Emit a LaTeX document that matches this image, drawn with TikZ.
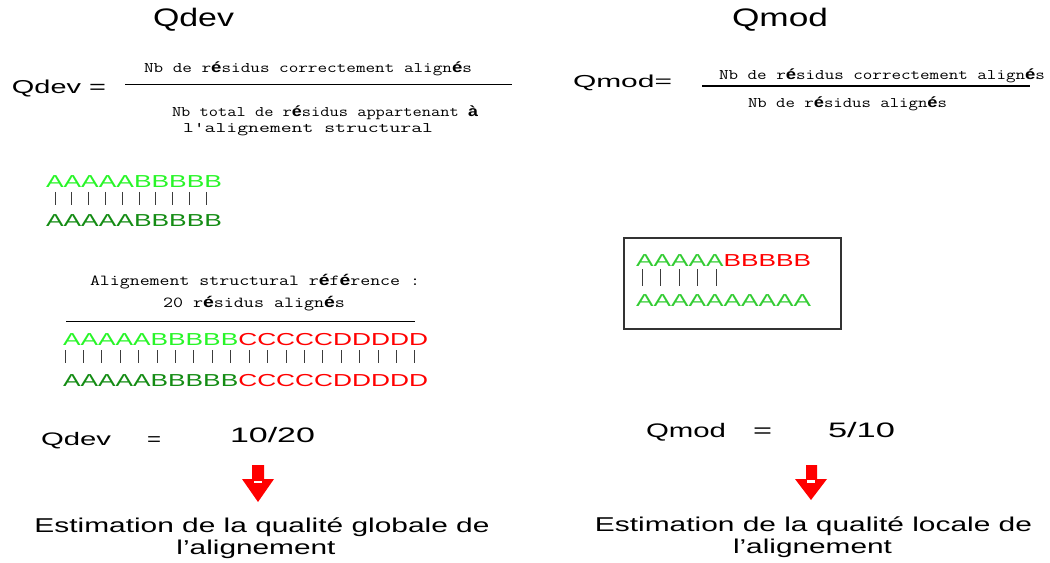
\documentclass[tikz,border=0pt]{standalone}
\usepackage{fontspec}
\setmainfont{Liberation Sans}
\usepackage{graphicx}
\newdimen\pxu \pxu=0.75pt
\newcommand\fw[2]{\resizebox{#1\pxu}{\height}{#2}}
\newcommand\Ea{{\rmfamily\bfseries é}}
\newcommand\Aa{{\rmfamily\bfseries à}}
\definecolor{lgreen}{RGB}{40,245,40}
\definecolor{dgreen}{RGB}{20,140,20}
\definecolor{mgreen}{RGB}{51,204,51}
\definecolor{seqred}{RGB}{255,0,0}
\definecolor{barcol}{RGB}{60,60,60}
\tikzset{
  txt/.style={inner sep=0pt, outer sep=0pt, anchor=base west},
  ctxt/.style={inner sep=0pt, outer sep=0pt, anchor=base},
  title/.style={txt, font=\fontsize{19}{23}\selectfont},
  mono/.style={txt, font=\fontsize{11}{13}\selectfont\ttfamily},
  seq/.style={txt, font=\fontsize{13}{15}\selectfont},
  big/.style={ctxt, font=\fontsize{15}{18}\selectfont},
  bar/.style={draw=barcol, line width=0.75pt},
  fracline/.style={draw=black, line width=1.1pt},
  redarrow/.style={fill=seqred, draw=none},
}
\begin{document}
\begin{tikzpicture}[x=0.75pt, y=-0.75pt]
\useasboundingbox (0,0) rectangle (1050,563);

% titles
\node[title] (tdev) at (153,27) {\fw{81}{Qdev}};
\node[title] (tmod) at (732,27) {\fw{96}{Qmod}};

% left formula
\node[txt, font=\fontsize{14}{16}\selectfont] (qdevf) at (12,94) {\fw{94}{Qdev =}};
\draw[fracline] (125,84.5) -- (512,84.5);
\node[mono] (numl) at (144,73) {\fw{328}{Nb de r\Ea sidus correctement align\Ea s}};
\node[mono] (denl1) at (172,117) {\fw{306}{Nb total de r\Ea sidus appartenant \Aa}};
\node[mono] (denl2) at (183,133) {\fw{250}{l'alignement structural}};

% right formula
\node[txt, font=\fontsize{13}{15}\selectfont] (qmodf) at (573,88) {\fw{99}{Qmod=}};
\draw[fracline] (702,86) -- (1030,86);
\node[mono] (numr) at (719,80) {\fw{326}{Nb de r\Ea sidus correctement align\Ea s}};
\node[mono] (denr) at (748,108) {\fw{199}{Nb de r\Ea sidus align\Ea s}};

% top-left small alignment
\node[seq] (s1) at (46,188) {\fw{176}{\color{lgreen}AAAAABBBBB}};
\foreach \i in {0,...,9} {
  \draw[bar] ({55+\i*16.8},192) -- ({55+\i*16.8},205);
}
\node[seq] (s2) at (46,226) {\fw{176}{\color{dgreen}AAAAABBBBB}};

% structural reference alignment
\node[mono, font=\fontsize{11.5}{13}\selectfont\ttfamily] (h1) at (90,285) {\fw{330}{Alignement structural r\Ea f\Ea rence :}};
\node[mono, font=\fontsize{11.5}{13}\selectfont\ttfamily] (h2) at (163,307) {\fw{182}{20 r\Ea sidus align\Ea s}};
\draw[draw=black, line width=0.75pt] (66,321) -- (415,321);
\node[seq] (r1) at (63,345) {\fw{365}{\color{lgreen}AAAAABBBBB\color{seqred}CCCCCDDDDD}};
\foreach \i in {0,...,19} {
  \draw[bar] ({65+\i*18.42},350) -- ({65+\i*18.42},363);
}
\node[seq] (r2) at (63,386) {\fw{365}{\color{dgreen}AAAAABBBBB\color{seqred}CCCCCDDDDD}};

% right box
\draw[draw=black!80, line width=1.1pt] (624,238) rectangle (841,329);
\node[seq] (b1) at (636,266) {\fw{175}{\color{mgreen}AAAAA\color{seqred}BBBBB}};
\foreach \i in {0,...,4} {
  \draw[bar] ({642+\i*18.5},269) -- ({642+\i*18.5},286);
}
\node[seq] (b2) at (636,306) {\fw{175}{\color{mgreen}AAAAAAAAAA}};

% bottom left result
\node[txt, font=\fontsize{13.6}{16}\selectfont] (qd) at (41,445) {\fw{70}{Qdev}};
\node[txt, font=\fontsize{13.6}{16}\selectfont] (eq1) at (147,445) {\fw{14}{=}};
\node[txt, font=\fontsize{15.7}{18}\selectfont] (v1) at (230,442) {\fw{85}{10/20}};

% bottom right result
\node[txt, font=\fontsize{14.7}{17}\selectfont] (qm) at (646,437) {\fw{80}{Qmod}};
\node[txt, font=\fontsize{14.7}{17}\selectfont] (eq2) at (753,437) {\fw{19}{=}};
\node[txt, font=\fontsize{15.7}{18}\selectfont] (v2) at (828,437) {\fw{67}{5/10}};

% arrows
\fill[redarrow] (252,465) -- (264,465) -- (264,479) -- (274,479) -- (258,502) -- (242,479) -- (252,479) -- cycle;
\fill[white] (254,480.5) rectangle (262,483);
\fill[redarrow] (806,465) -- (817,465) -- (817,479) -- (827,479) -- (811,500) -- (795,479) -- (806,479) -- cycle;
\fill[white] (807,480) rectangle (815,482.5);

% conclusions
\node[big] (c1a) at (262,532) {\fw{455}{Estimation de la qualité globale de}};
\node[big] (c1b) at (256,554) {\fw{159}{l’alignement}};
\node[big] (c2a) at (813.5,531) {\fw{437}{Estimation de la qualité locale de}};
\node[big] (c2b) at (812.5,553) {\fw{159}{l’alignement}};
\end{tikzpicture}
\end{document}
